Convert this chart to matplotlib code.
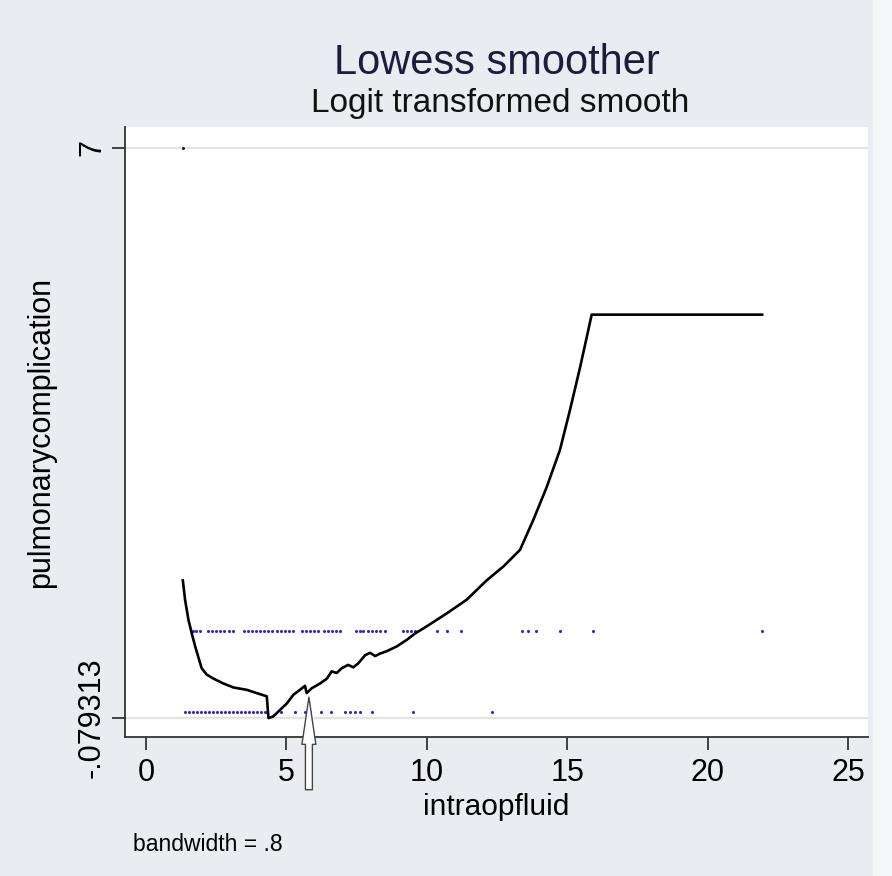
import numpy as np
import matplotlib.pyplot as plt
from matplotlib.patches import Rectangle

plt.rcParams['font.family'] = ['Liberation Sans', 'DejaVu Sans']

# observed points (intraopfluid, pulmonarycomplication)
x_one = [1.67, 1.78, 1.92, 2.21, 2.35, 2.49, 2.64, 2.78, 2.96, 3.10, 3.49, 3.63,
         3.77, 3.92, 4.06, 4.20, 4.34, 4.49, 4.67, 4.81, 4.95, 5.09, 5.24, 5.56,
         5.70, 5.84, 5.98, 6.13, 6.34, 6.48, 6.62, 6.77, 6.91, 7.48, 7.62, 7.73,
         7.91, 8.05, 8.19, 8.33, 8.51, 9.15, 9.29, 9.44, 9.58, 10.36, 10.72,
         11.22, 13.39, 13.60, 13.89, 14.74, 15.92, 21.94]
x_zero = [1.39, 1.53, 1.67, 1.82, 1.96, 2.10, 2.24, 2.39, 2.53, 2.67, 2.81, 2.96,
          3.10, 3.24, 3.38, 3.53, 3.67, 3.81, 3.95, 4.10, 4.24, 4.31, 4.81, 5.31,
          5.66, 5.84, 6.23, 6.59, 7.09, 7.27, 7.44, 7.62, 8.05, 9.51, 12.32]
x_out = [1.33]
y_out = [7]

# lowess curve (logit transformed)
curve_x = [1.31, 1.39, 1.51, 1.63, 1.75, 1.86, 1.98, 2.16, 2.40, 2.75, 3.11, 3.59,
           3.94, 4.30, 4.36, 4.53, 4.77, 5.01, 5.25, 5.48, 5.66, 5.72, 5.90, 6.20,
           6.44, 6.61, 6.79, 6.97, 7.20, 7.38, 7.56, 7.80, 7.98, 8.16, 8.33, 8.57,
           8.93, 9.28, 9.58, 10.00, 10.71, 11.42, 12.13, 12.75, 13.32, 13.79,
           14.27, 14.74, 15.10, 15.46, 15.87, 21.94]
curve_y = [1.63, 1.39, 1.14, 0.97, 0.81, 0.68, 0.54, 0.46, 0.41, 0.35, 0.30, 0.27,
           0.23, 0.19, -0.08, -0.06, 0.02, 0.10, 0.21, 0.27, 0.32, 0.23, 0.29, 0.35,
           0.41, 0.50, 0.48, 0.54, 0.58, 0.55, 0.60, 0.70, 0.73, 0.69, 0.72, 0.75,
           0.81, 0.89, 0.97, 1.06, 1.22, 1.39, 1.63, 1.81, 2.01, 2.38,
           2.79, 3.25, 3.75, 4.28, 4.93, 4.93]

ymin = -.079313
bg = '#e9edf1'

fig = plt.figure(figsize=(8.92, 8.76), dpi=100, facecolor=bg)
fig.patches.append(Rectangle((873 / 892, 0), 19 / 892, 1, transform=fig.transFigure,
                             color='#f5f6f7', zorder=0))
ax = fig.add_axes([0.1401, 0.1587, 0.833, 0.6963])
ax.set_facecolor('white')

for yv in [ymin, 7]:
    ax.axhline(yv, color='#e4e4e4', lw=1.6, zorder=0)

ax.scatter(x_one, [1] * len(x_one), s=5, color='#2a2ad0', lw=0, zorder=2)
ax.scatter(x_zero, [0] * len(x_zero), s=5, color='#2a2ad0', lw=0, zorder=2)
ax.scatter(x_out, y_out, s=5, color='#1a1a70', lw=0, zorder=2)
ax.plot(curve_x, curve_y, color='black', lw=1.9, zorder=3)

ax.set_xlim(-0.75, 25.71)
ax.set_ylim(-0.315, 7.26)
ax.set_xticks([0, 5, 10, 15, 20, 25])
ax.set_yticks([ymin, 7])
ax.set_yticklabels(['-.079313', '7'], rotation=90, va='center')
for s in ['top', 'right']:
    ax.spines[s].set_visible(False)
for s in ['left', 'bottom']:
    ax.spines[s].set_color('#333333')
    ax.spines[s].set_linewidth(1.3)
ax.tick_params(direction='out', length=9.4, width=1.3, color='#333333',
               labelsize=22, pad=3.5)
ax.tick_params(axis='x', pad=5.5)
ax.set_xlabel('intraopfluid', fontsize=21.5, labelpad=4)
ax.set_ylabel('pulmonarycomplication', fontsize=22, labelpad=15)

fig.text(0.557, 0.928, 'Lowess smoother', ha='center', va='center',
         fontsize=30, color='#1c1c3c')
fig.text(0.561, 0.882, 'Logit transformed smooth', ha='center', va='center',
         fontsize=24, color='#111111')
fig.text(0.149, 0.036, 'bandwidth = .8', ha='left', va='center', fontsize=16.5)

# hollow arrow added on the figure
ax.annotate('', xy=(5.8, 0.18), xytext=(5.8, -0.97),
            arrowprops=dict(arrowstyle='simple,head_length=34,head_width=10,tail_width=5',
                            mutation_scale=1, fc='white', ec='#444444', lw=1,
                            shrinkA=0, shrinkB=0),
            annotation_clip=False, zorder=5)

fig.savefig('out.png', dpi=100, facecolor=bg)
